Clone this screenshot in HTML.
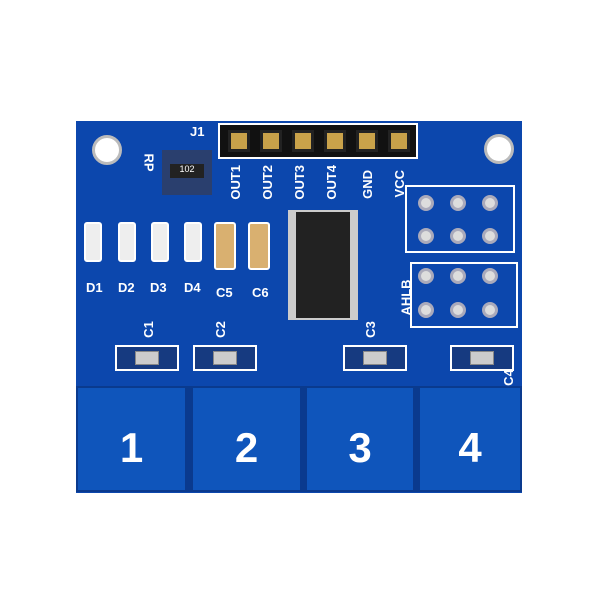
<!DOCTYPE html>
<html><head><style>
body{margin:0;width:600px;height:600px;background:#fff;position:relative;overflow:hidden;font-family:"Liberation Sans",sans-serif}
div{position:absolute;box-sizing:border-box}
.t{color:#fff;font-weight:bold;font-size:13px}
.pad{background:#0f55bb}
.num{color:#fff;font-size:42px;font-weight:bold;width:100%;text-align:center;top:36px}
.led{width:18px;height:40px;background:#eee;border:2px solid #fff;border-radius:3px}
.cap{width:64px;height:26px;border:2px solid #fff;background:#163a80}
.capi{left:18px;top:4px;width:24px;height:14px;background:#ccc;border:1px solid #888}
.pin{width:22px;height:22px;background:#c9a24a;border:3px solid #222}
.via{width:16px;height:16px;border-radius:50%;background:#ddd;border:3px solid #aab}
</style></head><body>
<div style="left:76px;top:121px;width:446px;height:372px;background:#0c47ad"></div>
<div style="left:92px;top:135px;width:30px;height:30px;border-radius:50%;background:#fff;border:3px solid #bbb"></div>
<div style="left:484px;top:134px;width:30px;height:30px;border-radius:50%;background:#fff;border:3px solid #bbb"></div>
<div style="left:218px;top:123px;width:200px;height:36px;background:#111;border:2px solid #fff"></div>
<div class="pin" style="left:228px;top:130px"></div><div class="pin" style="left:260px;top:130px"></div>
<div class="pin" style="left:292px;top:130px"></div><div class="pin" style="left:324px;top:130px"></div>
<div class="pin" style="left:356px;top:130px"></div><div class="pin" style="left:388px;top:130px"></div>
<div class="t" style="left:190px;top:124px">J1</div>
<div class="t" style="left:228px;top:165px;writing-mode:vertical-rl;transform:rotate(180deg)">OUT1</div>
<div class="t" style="left:260px;top:165px;writing-mode:vertical-rl;transform:rotate(180deg)">OUT2</div>
<div class="t" style="left:292px;top:165px;writing-mode:vertical-rl;transform:rotate(180deg)">OUT3</div>
<div class="t" style="left:324px;top:165px;writing-mode:vertical-rl;transform:rotate(180deg)">OUT4</div>
<div class="t" style="left:360px;top:170px;writing-mode:vertical-rl;transform:rotate(180deg)">GND</div>
<div class="t" style="left:392px;top:170px;writing-mode:vertical-rl;transform:rotate(180deg)">VCC</div>
<div style="left:162px;top:150px;width:50px;height:45px;background:#2a3f6e"></div>
<div style="left:170px;top:164px;width:34px;height:14px;background:#222;color:#fff;font-size:9px;text-align:center">102</div>
<div class="t" style="left:140px;top:155px;transform:rotate(90deg)">RP</div>
<div style="left:288px;top:210px;width:70px;height:110px;background:#ccc"></div>
<div style="left:296px;top:212px;width:54px;height:106px;background:#222"></div>
<div class="led" style="left:84px;top:222px"></div><div class="led" style="left:118px;top:222px"></div>
<div class="led" style="left:151px;top:222px"></div><div class="led" style="left:184px;top:222px"></div>
<div class="led" style="left:214px;top:222px;width:22px;height:48px;background:#d9b070"></div>
<div class="led" style="left:248px;top:222px;width:22px;height:48px;background:#d9b070"></div>
<div class="t" style="left:86px;top:280px">D1</div><div class="t" style="left:118px;top:280px">D2</div>
<div class="t" style="left:150px;top:280px">D3</div><div class="t" style="left:184px;top:280px">D4</div>
<div class="t" style="left:216px;top:285px">C5</div><div class="t" style="left:252px;top:285px">C6</div>
<div style="left:405px;top:185px;width:110px;height:68px;border:2px solid #fff"></div>
<div class="via" style="left:418px;top:195px"></div><div class="via" style="left:450px;top:195px"></div><div class="via" style="left:482px;top:195px"></div>
<div class="via" style="left:418px;top:228px"></div><div class="via" style="left:450px;top:228px"></div><div class="via" style="left:482px;top:228px"></div>
<div style="left:410px;top:262px;width:108px;height:66px;border:2px solid #fff"></div>
<div class="via" style="left:418px;top:268px"></div><div class="via" style="left:450px;top:268px"></div><div class="via" style="left:482px;top:268px"></div>
<div class="via" style="left:418px;top:302px"></div><div class="via" style="left:450px;top:302px"></div><div class="via" style="left:482px;top:302px"></div>
<div class="t" style="left:388px;top:290px;transform:rotate(-90deg)">AHLB</div>
<div class="cap" style="left:115px;top:345px"><div class="capi"></div></div>
<div class="cap" style="left:193px;top:345px"><div class="capi"></div></div>
<div class="cap" style="left:343px;top:345px"><div class="capi"></div></div>
<div class="cap" style="left:450px;top:345px"><div class="capi"></div></div>
<div class="t" style="left:140px;top:322px;transform:rotate(-90deg)">C1</div>
<div class="t" style="left:212px;top:322px;transform:rotate(-90deg)">C2</div>
<div class="t" style="left:362px;top:322px;transform:rotate(-90deg)">C3</div>
<div style="left:76px;top:386px;width:446px;height:106px;background:#0a3a8e"></div>
<div class="pad" style="left:78px;top:388px;width:107px;height:102px"><div class="num">1</div></div>
<div class="pad" style="left:193px;top:388px;width:107px;height:102px"><div class="num">2</div></div>
<div class="pad" style="left:307px;top:388px;width:106px;height:102px"><div class="num">3</div></div>
<div class="pad" style="left:420px;top:388px;width:100px;height:102px"><div class="num">4</div></div>
<div class="t" style="left:500px;top:370px;transform:rotate(-90deg)">C4</div>
</body></html>
